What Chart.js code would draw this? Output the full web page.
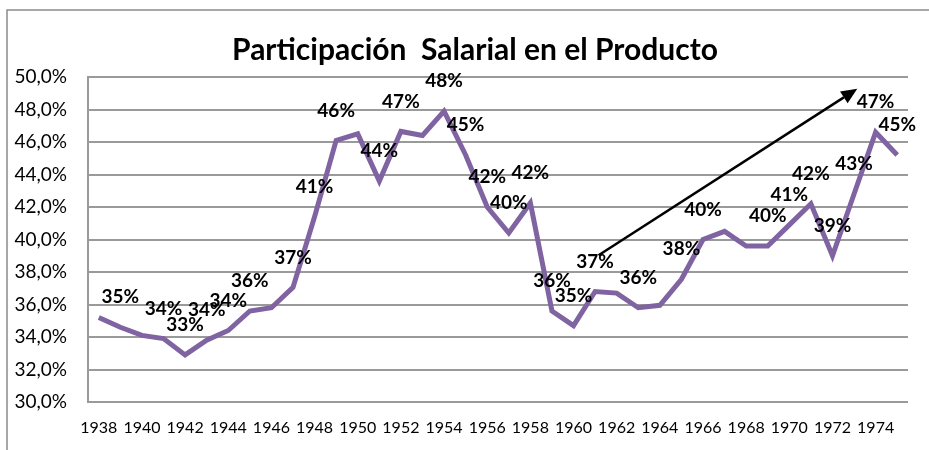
<!DOCTYPE html>
<html>
<head>
<meta charset="utf-8">
<script src="https://cdn.jsdelivr.net/npm/chart.js@4.4.0/dist/chart.umd.min.js"></script>
<style>
  html, body { margin: 0; padding: 0; background: #fff; }
  #wrap { width: 929px; height: 450px; }
</style>
</head>
<body>
<div id="wrap"><canvas id="chart" width="929" height="450"></canvas></div>
<script>
// Years on the category axis
const years = [
  1938, 1939, 1940, 1941, 1942, 1943, 1944, 1945, 1946, 1947,
  1948, 1949, 1950, 1951, 1952, 1953, 1954, 1955, 1956, 1957,
  1958, 1959, 1960, 1961, 1962, 1963, 1964, 1965, 1966, 1967,
  1968, 1969, 1970, 1971, 1972, 1973, 1974, 1975
];

// Wage share of product (%)
const wageShare = [
  35.2, 34.6, 34.1, 33.9, 32.9, 33.8, 34.4, 35.6, 35.8, 37.05,
  41.4, 46.1, 46.5, 43.6, 46.65, 46.4, 47.9, 45.2, 42.0, 40.4,
  42.25, 35.6, 34.7, 36.8, 36.7, 35.8, 35.95, 37.55, 40.0, 40.5,
  39.6, 39.6, 40.9, 42.2, 39.0, 42.8, 46.6, 45.2
];

// Which points carry a value label (1 = shown)
const labelShown = [
  0, 1, 0, 1, 1, 1, 1, 1, 0, 1,
  1, 1, 0, 1, 1, 0, 1, 1, 1, 1,
  1, 1, 1, 1, 0, 1, 0, 1, 1, 0,
  0, 1, 1, 1, 1, 1, 1, 1
];

// Trend arrow, in data units: [category index, value]
const arrowFrom = [23.16, 39.03];
const arrowTo = [35.15, 49.28];

const titleText = 'Participación  Salarial en el Producto';

const yMin = 30;
const yMax = 50;
const yStep = 2;

const purple = '#8064A2';
const gridGray = '#9a9a9a';

// Outer frame like the Excel chart border, plus the title
// (drawn here because Excel centres it a bit right of the plot centre)
const framePlugin = {
  id: 'frame',
  beforeDraw(chart) {
    const ctx = chart.ctx;
    ctx.save();
    ctx.strokeStyle = '#8c8c8c';
    ctx.lineWidth = 1.5;
    ctx.beginPath();
    ctx.moveTo(7, chart.height);
    ctx.lineTo(7, 10);
    ctx.lineTo(chart.width, 10);
    ctx.stroke();
    ctx.font = 'bold 30px Lato';
    ctx.fillStyle = '#000';
    ctx.textAlign = 'center';
    ctx.textBaseline = 'middle';
    ctx.fillText(titleText, 475, 50);
    ctx.restore();
  }
};

// Value labels above the points
const valueLabels = {
  id: 'valueLabels',
  afterDatasetsDraw(chart) {
    const ctx = chart.ctx;
    const meta = chart.getDatasetMeta(0);
    ctx.save();
    ctx.font = 'bold 19px Lato';
    ctx.fillStyle = '#000';
    ctx.textAlign = 'center';
    ctx.textBaseline = 'middle';
    meta.data.forEach((pt, i) => {
      if (!labelShown[i]) return;
      ctx.fillText(Math.round(wageShare[i]) + '%', pt.x, pt.y - 30);
    });
    ctx.restore();
  }
};

// Black trend arrow
const trendArrow = {
  id: 'trendArrow',
  afterDatasetsDraw(chart) {
    const { x, y } = chart.scales;
    const x0 = x.getPixelForValue(arrowFrom[0]);
    const y0 = y.getPixelForValue(arrowFrom[1]);
    const x1 = x.getPixelForValue(arrowTo[0]);
    const y1 = y.getPixelForValue(arrowTo[1]);
    const ang = Math.atan2(y1 - y0, x1 - x0);
    const headLen = 16;
    const headW = 7;
    const ctx = chart.ctx;
    ctx.save();
    ctx.strokeStyle = '#000';
    ctx.fillStyle = '#000';
    ctx.lineWidth = 2.5;
    ctx.beginPath();
    ctx.moveTo(x0, y0);
    ctx.lineTo(x1 - headLen * Math.cos(ang), y1 - headLen * Math.sin(ang));
    ctx.stroke();
    ctx.beginPath();
    ctx.moveTo(x1, y1);
    ctx.lineTo(x1 - headLen * Math.cos(ang) + headW * Math.sin(ang), y1 - headLen * Math.sin(ang) - headW * Math.cos(ang));
    ctx.lineTo(x1 - headLen * Math.cos(ang) - headW * Math.sin(ang), y1 - headLen * Math.sin(ang) + headW * Math.cos(ang));
    ctx.closePath();
    ctx.fill();
    ctx.restore();
  }
};

new Chart(document.getElementById('chart'), {
  type: 'line',
  data: {
    labels: years.map(String),
    datasets: [{
      data: wageShare,
      borderColor: purple,
      borderWidth: 5,
      pointRadius: 0,
      tension: 0,
      fill: false
    }]
  },
  options: {
    responsive: false,
    animation: false,
    layout: { padding: { left: 0, right: 21, top: 77, bottom: 0 } },
    plugins: {
      legend: { display: false },
      tooltip: { enabled: false },
      title: { display: false }
    },
    scales: {
      x: {
        offset: true,
        grid: { display: false, drawTicks: false },
        border: { display: false },
        ticks: {
          autoSkip: false,
          maxRotation: 0,
          color: '#000',
          padding: 16,
          font: { family: 'Lato', size: 16 },
          callback: function (val, i) { return i % 2 === 0 ? years[i] : ''; }
        },
        afterFit: (scale) => { scale.height = 48; }
      },
      y: {
        min: yMin,
        max: yMax,
        grid: { color: gridGray, lineWidth: 2, drawTicks: false },
        border: { display: true, color: gridGray, width: 2 },
        ticks: {
          stepSize: yStep,
          color: '#000',
          padding: 21,
          font: { family: 'Lato', size: 19 },
          callback: (v) => v.toFixed(1).replace('.', ',') + '%'
        },
        afterFit: (scale) => { scale.width = 88; }
      }
    }
  },
  plugins: [framePlugin, valueLabels, trendArrow]
});
</script>
</body>
</html>
